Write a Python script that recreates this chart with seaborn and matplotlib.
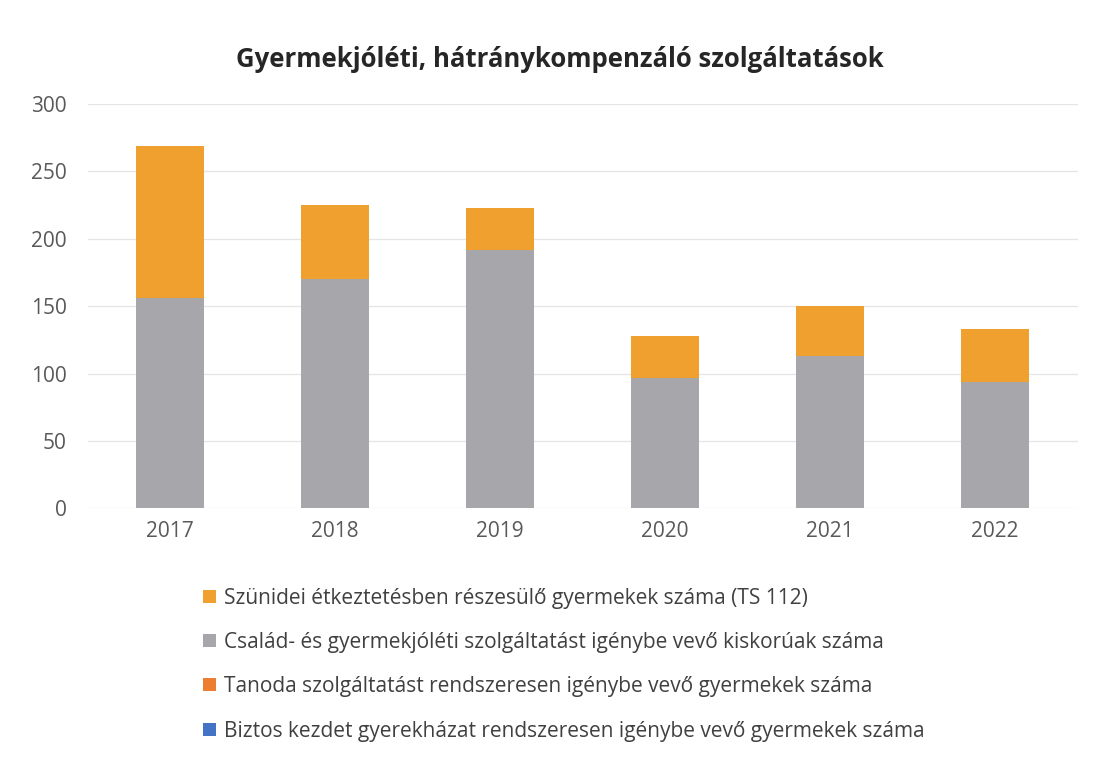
import matplotlib
matplotlib.use("Agg")
import matplotlib.pyplot as plt
import matplotlib.patches as mpatches
import seaborn as sns
import pandas as pd

years = ["2017", "2018", "2019", "2020", "2021", "2022"]
szunidei = [113, 55, 31, 31, 37, 39]
csalad = [156, 170, 192, 97, 113, 94]
tanoda = [0, 0, 0, 0, 0, 0]
biztos = [0, 0, 0, 0, 0, 0]

labels = [
    "Szünidei étkeztetésben részesülő gyermekek száma (TS 112)",
    "Család- és gyermekjóléti szolgáltatást igénybe vevő kiskorúak száma",
    "Tanoda szolgáltatást rendszeresen igénybe vevő gyermekek száma",
    "Biztos kezdet gyerekházat rendszeresen igénybe vevő gyermekek száma",
]
colors = ["#F0A02E", "#A7A6AB", "#ED7D31", "#4472C4"]

sns.set_theme(style="white")
plt.rcParams["font.family"] = ["Open Sans", "DejaVu Sans"]

df = pd.DataFrame({"year": years, "szunidei": szunidei, "csalad": csalad,
                   "tanoda": tanoda, "biztos": biztos})
df["total"] = df["csalad"] + df["szunidei"] + df["tanoda"] + df["biztos"]

fig = plt.figure(figsize=(10.94, 7.62), dpi=100)
ax = fig.add_axes([0.080, 0.333, 0.905, 0.5305])

sns.barplot(data=df, x="year", y="total", color=colors[0], width=0.41,
            saturation=1, ax=ax, zorder=3, linewidth=0)
sns.barplot(data=df, x="year", y="csalad", color=colors[1], width=0.41,
            saturation=1, ax=ax, zorder=4, linewidth=0)

ax.set_ylim(0, 300)
ax.set_yticks(range(0, 301, 50))
ax.set_xlim(-0.5, 5.5)
ax.yaxis.grid(True, color="#E4E4E4", linewidth=0.9, zorder=0)
ax.set_axisbelow(True)
for s in ax.spines.values():
    s.set_visible(False)
ax.set_xlabel("")
ax.set_ylabel("")
ax.tick_params(axis="both", labelsize=15, colors="#595959", length=0, pad=9)
ax.tick_params(axis="y", pad=15)

fig.text(0.512, 0.922, "Gyermekjóléti, hátránykompenzáló szolgáltatások",
         ha="center", va="center", fontsize=18.5, fontweight="bold", color="#262626")

handles = [mpatches.Patch(facecolor=c, edgecolor="none") for c in colors]
leg = fig.legend(handles, labels, loc="upper left",
                 bbox_to_anchor=(0.186, 0.229), frameon=False,
                 fontsize=15, labelspacing=1.12, handlelength=0.6,
                 handleheight=0.6, handletextpad=0.4, borderaxespad=0,
                 borderpad=0)
for t in leg.get_texts():
    t.set_color("#404040")

fig.savefig("out.png", dpi=100)
